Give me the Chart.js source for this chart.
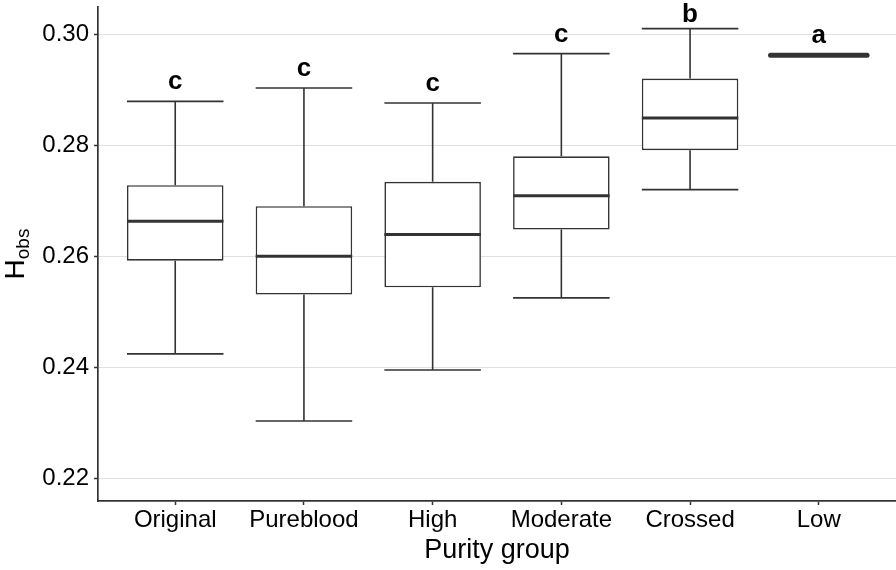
<!DOCTYPE html>
<html>
<head>
<meta charset="utf-8">
<script src="https://cdn.jsdelivr.net/npm/chart.js@4.4.1/dist/chart.umd.min.js"></script>
<style>
  body { margin: 0; background: #fff; }
  #wrap { width: 896px; height: 570px; }
</style>
</head>
<body>
<div id="wrap"><canvas id="myChart"></canvas></div>
<script>
const groups = ['Original', 'Pureblood', 'High', 'Moderate', 'Crossed', 'Low'];
const lowWhisker = [0.2425, 0.2304, 0.2396, 0.2526, 0.2721, 0.2963];
const q1 = [0.2593, 0.2532, 0.2545, 0.2649, 0.2792, 0.2963];
const medians = [0.2664, 0.2601, 0.2640, 0.2710, 0.2850, 0.2963];
const q3 = [0.2729, 0.2691, 0.2735, 0.2781, 0.2921, 0.2963];
const highWhisker = [0.2880, 0.2904, 0.2877, 0.2966, 0.3011, 0.2963];
const letters = ['c', 'c', 'c', 'c', 'b', 'a'];
const yTicks = [0.22, 0.24, 0.26, 0.28, 0.30];

const ink = '#333333';
const fontFamily = '"Liberation Sans", Arial, Helvetica, sans-serif';

// whiskers, medians and group letters on top of the floating bars
const boxExtras = {
  id: 'boxExtras',
  afterDatasetsDraw(chart) {
    const ctx = chart.ctx;
    const y = chart.scales.y;
    const meta = chart.getDatasetMeta(0);
    ctx.save();
    ctx.strokeStyle = ink;
    ctx.lineCap = 'butt';
    meta.data.forEach((bar, i) => {
      const cx = bar.x;
      const half = bar.width / 2;
      const yMin = y.getPixelForValue(lowWhisker[i]);
      const yMax = y.getPixelForValue(highWhisker[i]);
      const yQ1 = y.getPixelForValue(q1[i]);
      const yQ3 = y.getPixelForValue(q3[i]);
      const yMed = y.getPixelForValue(medians[i]);
      ctx.lineWidth = 1.6;
      ctx.beginPath();
      ctx.moveTo(cx, yQ3); ctx.lineTo(cx, yMax);
      ctx.moveTo(cx, yQ1); ctx.lineTo(cx, yMin);
      ctx.moveTo(cx - half, yMax); ctx.lineTo(cx + half, yMax);
      ctx.moveTo(cx - half, yMin); ctx.lineTo(cx + half, yMin);
      ctx.stroke();
      // collapsed box: borders and median sit on one line
      ctx.lineWidth = q1[i] === q3[i] ? 5 : 3;
      ctx.lineCap = q1[i] === q3[i] ? 'round' : 'butt';
      ctx.beginPath();
      ctx.moveTo(cx - half, yMed); ctx.lineTo(cx + half, yMed);
      ctx.stroke();
      ctx.lineCap = 'butt';
    });
    ctx.fillStyle = '#000';
    ctx.font = 'bold 26px ' + fontFamily;
    ctx.textAlign = 'center';
    ctx.textBaseline = 'alphabetic';
    meta.data.forEach((bar, i) => {
      // keep tall letters inside the canvas
      const base = Math.max(y.getPixelForValue(highWhisker[i]) - 12, 22);
      ctx.fillText(letters[i], bar.x, base);
    });
    ctx.restore();
  }
};

// y axis title H with subscript obs
const yTitle = {
  id: 'yTitle',
  afterDraw(chart) {
    const ctx = chart.ctx;
    const area = chart.chartArea;
    ctx.save();
    ctx.translate(24, (area.top + area.bottom) / 2);
    ctx.rotate(-Math.PI / 2);
    ctx.fillStyle = '#000';
    ctx.textBaseline = 'alphabetic';
    ctx.textAlign = 'left';
    ctx.font = '28px ' + fontFamily;
    const wH = ctx.measureText('H').width;
    ctx.font = '19px ' + fontFamily;
    const wS = ctx.measureText('obs').width;
    const start = -(wH + wS) / 2;
    ctx.font = '28px ' + fontFamily;
    ctx.fillText('H', start, 0);
    ctx.font = '19px ' + fontFamily;
    ctx.fillText('obs', start + wH, 5);
    ctx.restore();
  }
};

const data = {
  datasets: [{
    label: 'IQR',
    data: groups.map((g, i) => ({ x: i, y: [q1[i], q3[i]] })),
    backgroundColor: '#ffffff',
    borderColor: ink,
    borderWidth: 1.6,
    borderSkipped: false,
    categoryPercentage: 1,
    barPercentage: 0.75
  }]
};

const config = {
  type: 'bar',
  data: data,
  options: {
    responsive: true,
    maintainAspectRatio: false,
    animation: false,
    layout: { padding: { top: 7, right: 0, left: 0, bottom: 0 } },
    plugins: {
      legend: { display: false },
      tooltip: { enabled: false }
    },
    scales: {
      x: {
        type: 'linear',
        offset: false,
        min: -0.6,
        max: 5.6,
        afterBuildTicks: (scale) => { scale.ticks = groups.map((g, i) => ({ value: i })); },
        afterFit: (scale) => { scale.height = 69; scale.paddingLeft = 0; scale.paddingRight = 0; },
        grid: { offset: false, drawOnChartArea: false, drawTicks: true, tickLength: 4, tickColor: ink, tickWidth: 1.5 },
        border: { display: true, color: ink, width: 1.7 },
        ticks: {
          autoSkip: false,
          maxRotation: 0,
          padding: 1,
          color: '#000',
          font: { family: fontFamily, size: 24 },
          callback: (v) => groups[v]
        },
        title: {
          display: true,
          text: 'Purity group',
          color: '#000',
          font: { family: fontFamily, size: 27 },
          padding: { top: 0, bottom: 3 }
        }
      },
      y: {
        min: 0.216,
        max: 0.305,
        afterBuildTicks: (scale) => { scale.ticks = yTicks.map((v) => ({ value: v })); },
        afterFit: (scale) => { scale.width = 98; scale.paddingTop = 0; scale.paddingBottom = 0; },
        grid: { color: '#e0e0e0', lineWidth: 1, drawTicks: true, tickLength: 4, tickColor: ink, tickWidth: 1.5 },
        border: { display: true, color: ink, width: 1.7 },
        ticks: {
          padding: 5,
          color: '#000',
          font: { family: fontFamily, size: 24 },
          callback: (v) => v.toFixed(2)
        }
      }
    }
  },
  plugins: [boxExtras, yTitle]
};

const myChart = new Chart('myChart', config);
</script>
</body>
</html>
